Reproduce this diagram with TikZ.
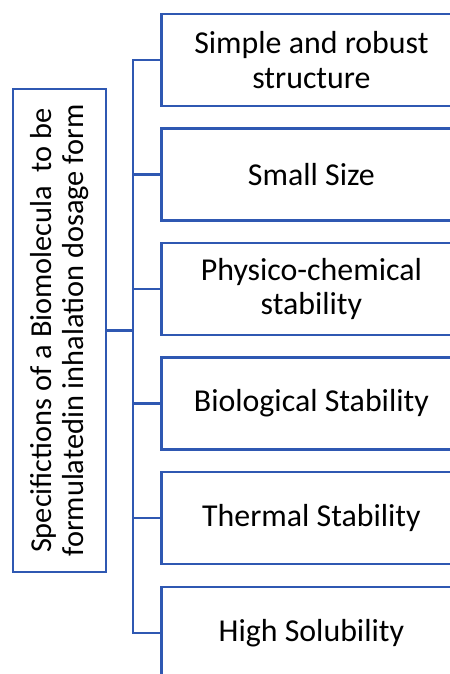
\documentclass[tikz,border=0pt]{standalone}
\usepackage{fontspec}
\setmainfont{Carlito}
\usetikzlibrary{positioning}
\definecolor{specblue}{RGB}{47,88,178}

\begin{document}
\begin{tikzpicture}[x=1bp, y=-1bp,
	spec box/.style={draw=specblue, line width=2.8bp, fill=white, align=center, inner sep=0pt, font=\fontsize{32}{35}\selectfont},
	item box/.style={spec box, minimum width=300bp, minimum height=92bp, anchor=west},
	link/.style={specblue, line width=2.8bp}]
	\clip (0, 0) rectangle (450, 674);

	\node[spec box, rotate=90, minimum width=483bp, minimum height=93bp, font=\fontsize{30.5}{33}\selectfont] (spec) at (59.5, 330.5)
		{Specifictions of a Biomolecula\ \ to be\\formulatedin inhalation dosage form};

	\node[item box] (simple) at (160, 60) {Simple and robust\\structure};
	\node[item box] (small) at (160, 174.5) {Small Size};
	\node[item box] (physchem) at (160, 289) {Physico-chemical\\stability};
	\node[item box] (bio) at (160, 403.5) {Biological Stability};
	\node[item box] (thermal) at (160, 518) {Thermal Stability};
	\node[item box] (solub) at (160, 633) {High Solubility};

	% bracket
	\coordinate (bus) at (133, 0);
	\draw[link] (spec.south) -- (spec.south -| bus);
	\draw[link] (simple.west) -- (bus |- simple.west) -- (bus |- solub.west) -- (solub.west);
	\draw[link] (bus |- small.west) -- (small.west);
	\draw[link] (bus |- physchem.west) -- (physchem.west);
	\draw[link] (bus |- bio.west) -- (bio.west);
	\draw[link] (bus |- thermal.west) -- (thermal.west);
\end{tikzpicture}
\end{document}
